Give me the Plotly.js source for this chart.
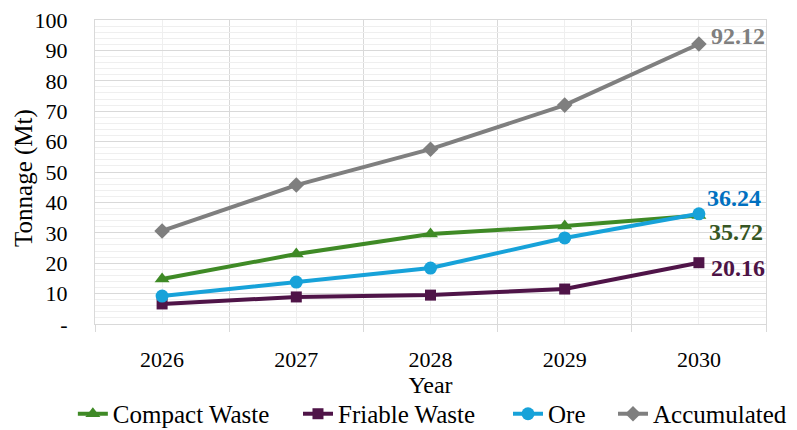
<!DOCTYPE html>
<html>
<head>
<meta charset="utf-8">
<script src="https://cdn.plot.ly/plotly-3.0.1.min.js"></script>
<style>
  html, body { margin: 0; padding: 0; background: #fff; }
  #chart { width: 797px; height: 430px; }
</style>
</head>
<body>
<div id="chart"></div>
<script>
// Years on the horizontal axis
const years = [2026, 2027, 2028, 2029, 2030];

// Tonnage per material (Mt)
const compactWaste = [14.8, 23.0, 29.6, 32.2, 35.72];
const friableWaste = [6.6, 8.9, 9.5, 11.5, 20.16];
const ore          = [9.2, 13.8, 18.4, 28.3, 36.24];
const accumulated  = [30.6, 45.7, 57.5, 72.0, 92.12];

// Vertical axis ticks
const yTickVals = [0, 10, 20, 30, 40, 50, 60, 70, 80, 90, 100];
const yTickText = ['-', '10', '20', '30', '40', '50', '60', '70', '80', '90', '100'];

const FONT = 'Liberation Serif';

// Category boundaries sit halfway between years
const boundaries = years.map(y => y - 0.5).concat([years[years.length - 1] + 0.5]);

function series(name, values, color, symbol, size, legendId) {
  return {
    type: 'scatter', mode: 'lines+markers', name: name,
    x: years, y: values,
    line: { color: color, width: 4 },
    marker: { color: color, symbol: symbol, size: size },
    legend: legendId,
    hoverinfo: 'skip'
  };
}

const traces = [
  series('Compact Waste', compactWaste, '#3f8a26', 'triangle-up', 13, 'legend'),
  series('Friable Waste', friableWaste, '#4f1448', 'square', 11, 'legend2'),
  series('Ore', ore, '#17a2d9', 'circle', 13, 'legend3'),
  series('Accumulated', accumulated, '#7f7f7f', 'diamond', 12, 'legend4')
];

// One single-entry legend per series, laid out in a row under the axis title
function legendAt(x) {
  return {
    orientation: 'h', x: x, xanchor: 'left', y: -0.296, yanchor: 'middle',
    font: { family: FONT, size: 25, color: '#000000' },
    bgcolor: 'rgba(0,0,0,0)', borderwidth: 0
  };
}

// End-of-line value labels
const last = years.length - 1;
function endLabel(values, color, xshift, yshift) {
  return {
    x: years[last], y: values[last], xref: 'x', yref: 'y',
    text: '<b>' + values[last].toFixed(2) + '</b>',
    showarrow: false, xanchor: 'left', yanchor: 'middle',
    xshift: xshift, yshift: yshift,
    font: { family: FONT, size: 24, color: color }
  };
}

const layout = {
  width: 797, height: 430,
  margin: { l: 95, r: 31, t: 20, b: 106, autoexpand: false },
  paper_bgcolor: '#ffffff', plot_bgcolor: '#ffffff',
  font: { family: FONT, size: 22, color: '#000000' },
  showlegend: true,
  legend: legendAt(-0.033),
  legend2: legendAt(0.3025),
  legend3: legendAt(0.6155),
  legend4: legendAt(0.772),
  xaxis: {
    range: [boundaries[0], boundaries[boundaries.length - 1]],
    tickmode: 'array', tickvals: years, ticktext: years.map(String),
    ticks: '', showgrid: true, gridcolor: '#efefef', gridwidth: 1,
    zeroline: false, showline: true, linecolor: '#d9d9d9', linewidth: 1, mirror: true,
    ticklabelstandoff: 16,
    minor: {
      tickmode: 'array', tickvals: boundaries,
      ticks: 'outside', ticklen: 7, tickcolor: '#d9d9d9', tickwidth: 1,
      showgrid: true, gridcolor: '#d9d9d9', gridwidth: 1
    },
    tickfont: { family: FONT, size: 22, color: '#000000' },
    title: { text: 'Year', font: { family: FONT, size: 24, color: '#000000' }, standoff: 2 },
    automargin: false, fixedrange: true
  },
  yaxis: {
    range: [0, 100],
    tickmode: 'array', tickvals: yTickVals, ticktext: yTickText,
    ticks: '', showgrid: true, gridcolor: '#d9d9d9', gridwidth: 1,
    zeroline: false, showline: true, linecolor: '#d9d9d9', linewidth: 1, mirror: true,
    ticklabelstandoff: 22,
    minor: { dtick: 2, showgrid: true, gridcolor: '#efefef', gridwidth: 1, ticks: '' },
    tickfont: { family: FONT, size: 22, color: '#000000' },
    automargin: false, fixedrange: true
  },
  annotations: [
    // vertical axis title
    {
      text: 'Tonnage (Mt)', textangle: -90, showarrow: false,
      xref: 'paper', yref: 'paper', x: -0.106, y: 0.48,
      xanchor: 'center', yanchor: 'middle',
      font: { family: FONT, size: 25, color: '#000000' }
    },
    endLabel(accumulated, '#7f7f7f', 10, 8),
    endLabel(ore, '#0070c0', 6, 16),
    endLabel(compactWaste, '#375623', 8, -17),
    endLabel(friableWaste, '#4d1346', 10, -5)
  ]
};

Plotly.newPlot('chart', traces, layout, { staticPlot: true, displayModeBar: false });
</script>
</body>
</html>
